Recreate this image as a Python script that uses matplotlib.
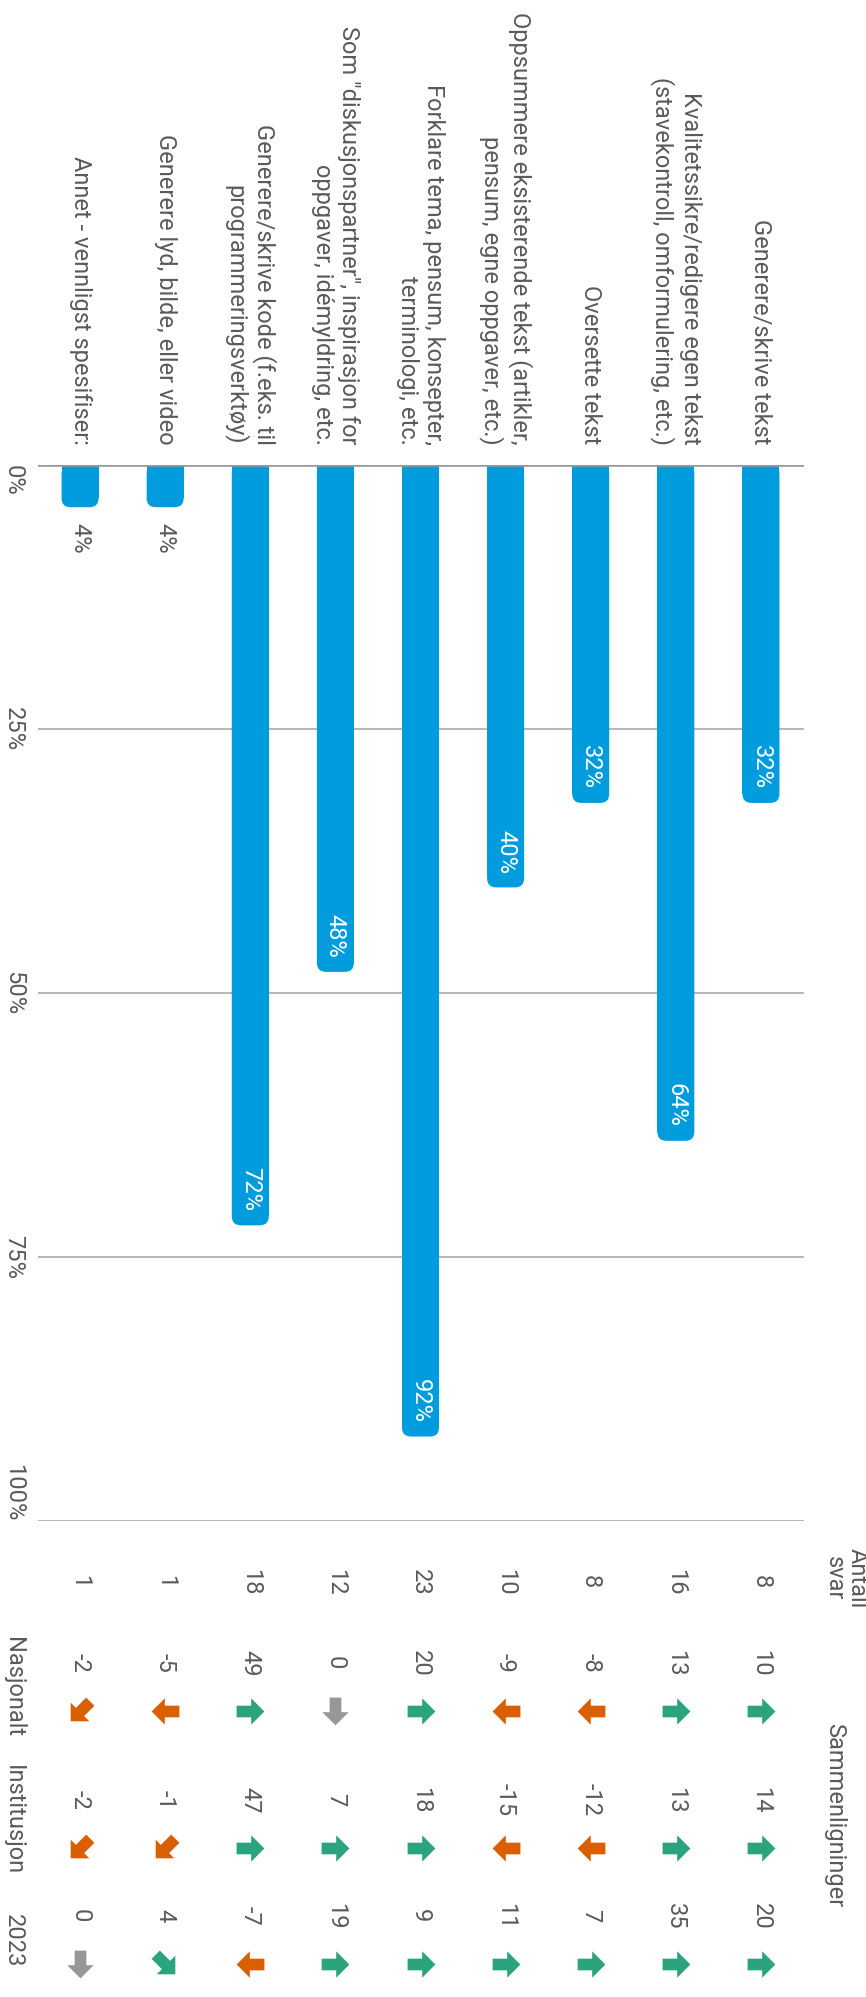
import matplotlib
matplotlib.use("Agg")
import matplotlib.pyplot as plt
from matplotlib.patches import FancyBboxPatch
from matplotlib.markers import MarkerStyle
from matplotlib.path import Path
from matplotlib.transforms import Affine2D

plt.rcParams['font.family'] = ['Roboto', 'DejaVu Sans']

# data, top category first (as in the unrotated chart)
categories = [
    "Generere/skrive tekst",
    "Kvalitetssikre/redigere egen tekst\n(stavekontroll, omformulering, etc.)",
    "Oversette tekst",
    "Oppsummere eksisterende tekst (artikler,\npensum, egne oppgaver, etc.)",
    "Forklare tema, pensum, konsepter,\nterminologi, etc.",
    "Som \"diskusjonspartner\", inspirasjon for\noppgaver, idémyldring, etc.",
    "Generere/skrive kode (f.eks. til\nprogrammeringsverktøy)",
    "Generere lyd, bilde, eller video",
    "Annet - vennligst spesifiser:",
]
percent = [32, 64, 32, 40, 92, 48, 72, 4, 4]
antall_svar = [8, 16, 8, 10, 23, 12, 18, 1, 1]
nasjonalt = [10, 13, -8, -9, 20, 0, 49, -5, -2]
institusjon = [14, 13, -12, -15, 18, 7, 47, -1, -2]
aar_2023 = [20, 35, 7, 11, 9, 19, -7, 4, 0]
tick_vals = [0, 25, 50, 75, 100]

BLUE = '#009cde'
GREEN = '#2ba37c'
ORANGE = '#d95f00'
GREYARROW = '#95989a'
TXT = '#5a5a5a'
FS = 17

W, H = 866, 1997
fig = plt.figure(figsize=(W / 100, H / 100), dpi=100)

# main bar axes (rotated chart: bars hang down from the 0% line)
left, right = 37.5, 803.5
top, bottom = 465, 1521
ax = fig.add_axes([left / W, 1 - bottom / H, (right - left) / W, (bottom - top) / H])
n = len(categories)
ax.set_xlim(n - 0.5, -0.5)
ax.set_ylim(100, 0)
ax.axis('off')

px_x = n / (right - left)          # data x per pixel
px_y = 100 / (bottom - top)        # data y per pixel
bw = 37 * px_x
r_px = 9

for t in tick_vals:
    if t == 0:
        continue
    ax.axhline(t, color='#aaaaaa', lw=1.2, zorder=1)
ax.axhline(0, color='#999999', lw=2.6, zorder=4)

for i, v in enumerate(percent):
    ax.bar(i, v - r_px * px_y, width=bw, bottom=0, color=BLUE, zorder=2, lw=0)
    p = FancyBboxPatch((i - bw / 2, 0), bw, v,
                       boxstyle=f"round,pad=0,rounding_size={r_px * px_x}",
                       mutation_aspect=px_y / px_x, fc=BLUE, ec='none', zorder=2)
    ax.add_patch(p)
    if v >= 10:
        ax.annotate(f"{v}%", (i, v), xytext=(0, 10), textcoords='offset points',
                    rotation=-90, ha='center', va='bottom', color='white', fontsize=FS)
    else:
        ax.annotate(f"{v}%", (i, v), xytext=(0, -11), textcoords='offset points',
                    rotation=-90, ha='center', va='top', color=TXT, fontsize=FS)

    ax.annotate(categories[i], (i, 0), xytext=(0, 14.5), textcoords='offset points',
                rotation=-90, ha='center', va='bottom', multialignment='right',
                color=TXT, fontsize=FS, linespacing=1.2, annotation_clip=False)

# value axis labels
lab_x = n - 0.5 + 24 * px_x
for t in tick_vals:
    va = 'top' if t == 0 else ('bottom' if t == 100 else 'center')
    ax.text(lab_x, t, f"{t}%", rotation=-90, ha='center', va=va,
            color=TXT, fontsize=FS, clip_on=False)

# table below the chart
tab = fig.add_axes([left / W, 0, (right - left) / W, (H - bottom) / H])
tab.set_xlim(n - 0.5, -0.5)
tab.set_ylim(H - bottom, 0)
tab.axis('off')

arrow_path = Path([(-1, -0.42), (0.05, -0.42), (0.05, -0.95), (1, 0),
                   (0.05, 0.95), (0.05, 0.42), (-1, 0.42), (-1, -0.42)],
                  [Path.MOVETO] + [Path.LINETO] * 6 + [Path.CLOSEPOLY])


def arrow_style(v):
    if v > 4:
        return 0, GREEN
    if v > 0:
        return -45, GREEN
    if v == 0:
        return -90, GREYARROW
    if v >= -4:
        return -135, ORANGE
    return 180, ORANGE


tab.text(-1.0, 57, "Antall\nsvar", rotation=-90, ha='center', va='center',
         color=TXT, fontsize=FS, linespacing=1.0, clip_on=False)
tab.text(-0.87, 294, "Sammenligninger", rotation=-90, ha='center', va='center',
         color=TXT, fontsize=FS, clip_on=False)

for i, a in enumerate(antall_svar):
    tab.text(i, 61, str(a), rotation=-90, ha='center', va='center',
             color=TXT, fontsize=FS)

rows = [("Nasjonalt", nasjonalt, 142, 190, 166),
        ("Institusjon", institusjon, 279, 327, 299),
        ("2023", aar_2023, 395, 443, 420)]
for name, vals, y_val, y_arr, y_lab in rows:
    tab.text(lab_x, y_lab, name, rotation=-90, ha='center', va='center',
             color=TXT, fontsize=FS, clip_on=False)
    for i, v in enumerate(vals):
        tab.text(i, y_val, str(v), rotation=-90, ha='center', va='center',
                 color=TXT, fontsize=FS)
        ang, col = arrow_style(v)
        m = MarkerStyle(arrow_path, transform=Affine2D().rotate_deg(ang))
        tab.plot(i, y_arr, marker=m, ms=20, color=col, mec='none', ls='none')

fig.savefig('out.png', dpi=100)
